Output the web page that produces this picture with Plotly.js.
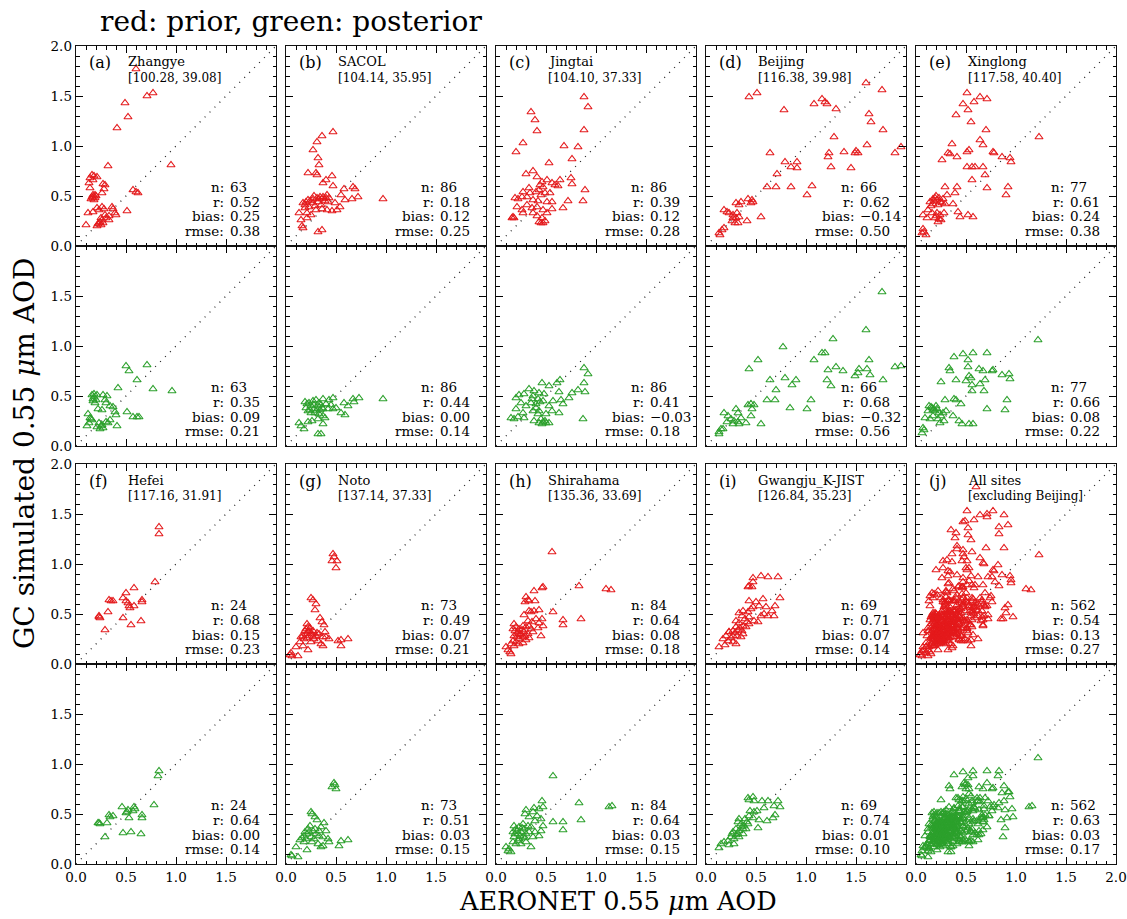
<!DOCTYPE html>
<html><head><meta charset="utf-8">
<script src="https://cdn.plot.ly/plotly-3.0.1.min.js"></script>
<style>html,body{margin:0;padding:0;background:#fff}</style>
</head><body>
<div id="chart" style="width:1127px;height:919px"></div>
<script>
// ---------------- data ----------------
const panelLetters = ['(a)','(b)','(c)','(d)','(e)','(f)','(g)','(h)','(i)','(j)'];
const siteNames = ['Zhangye','SACOL','Jingtai','Beijing','Xinglong','Hefei','Noto','Shirahama','Gwangju_K-JIST','All sites'];
const siteCoords = ['[100.28, 39.08]','[104.14, 35.95]','[104.10, 37.33]','[116.38, 39.98]','[117.58, 40.40]','[117.16, 31.91]','[137.14, 37.33]','[135.36, 33.69]','[126.84, 35.23]','[excluding Beijing]'];
const statN = ['63','86','86','66','77','24','73','84','69','562'];
const priorR = ['0.52','0.18','0.39','0.62','0.61','0.68','0.49','0.64','0.71','0.54'];
const priorBias = ['0.25','0.12','0.12','\u22120.14','0.24','0.15','0.07','0.08','0.07','0.13'];
const priorRmse = ['0.38','0.25','0.28','0.50','0.38','0.23','0.21','0.18','0.14','0.27'];
const postR = ['0.35','0.44','0.41','0.68','0.66','0.64','0.51','0.64','0.74','0.63'];
const postBias = ['0.09','0.00','\u22120.03','\u22120.32','0.08','0.00','0.03','0.03','0.01','0.03'];
const postRmse = ['0.21','0.14','0.18','0.56','0.22','0.14','0.15','0.15','0.10','0.17'];
const xTickVals = [0, 0.5, 1.0, 1.5, 2.0];
const xTickText = ['0.0','0.5','1.0','1.5','2.0'];

// [AERONET, GC] pairs
const zhangyePrior = [[0.60,1.77],[0.49,1.43],[0.52,1.29],[0.71,1.50],[0.77,1.53],[0.41,1.18],[0.95,0.81],[0.32,0.80],
[0.14,0.68],[0.16,0.71],[0.18,0.70],[0.21,0.69],[0.13,0.63],[0.14,0.58],[0.17,0.66],
[0.27,0.62],[0.29,0.61],[0.28,0.57],[0.26,0.53],
[0.16,0.49],[0.17,0.51],[0.19,0.48],[0.15,0.47],[0.20,0.50],[0.18,0.46],[0.17,0.48],[0.19,0.51],
[0.12,0.33],[0.17,0.34],[0.21,0.38],[0.26,0.39],[0.28,0.37],[0.23,0.36],
[0.36,0.39],[0.37,0.37],[0.39,0.33],[0.40,0.31],[0.51,0.35],[0.57,0.56],[0.60,0.54],[0.62,0.53],[0.10,0.21],
[0.21,0.20],[0.24,0.24],[0.26,0.26],[0.27,0.23],[0.30,0.28],[0.33,0.26],[0.23,0.23],[0.25,0.28],[0.33,0.30],[0.29,0.31],[0.22,0.22],[0.25,0.21]];
const zhangyePost = [[0.50,0.80],[0.53,0.75],[0.71,0.81],[0.61,0.66],[0.77,0.57],[0.96,0.55],[0.42,0.58],
[0.16,0.51],[0.18,0.49],[0.20,0.46],[0.17,0.45],[0.21,0.51],[0.19,0.43],[0.18,0.52],[0.17,0.47],
[0.27,0.51],[0.31,0.50],[0.29,0.46],[0.30,0.43],[0.34,0.40],[0.22,0.37],[0.26,0.36],
[0.37,0.39],[0.39,0.34],[0.40,0.31],[0.51,0.34],[0.57,0.29],[0.61,0.29],[0.63,0.29],
[0.12,0.32],[0.14,0.28],[0.16,0.26],[0.13,0.23],[0.15,0.27],
[0.11,0.20],[0.21,0.19],[0.23,0.23],[0.26,0.21],[0.27,0.18],[0.30,0.24],[0.32,0.23],[0.34,0.26],[0.41,0.20],[0.24,0.17],[0.25,0.20]];
const sacolPrior = [[0.47,1.14],[0.36,1.10],[0.31,1.04],[0.27,0.96],[0.32,0.88],[0.33,0.81],[0.22,0.73],[0.30,0.73],[0.31,0.71],[0.46,0.70],[0.37,0.63],[0.40,0.66],[0.47,0.60],[0.58,0.57],[0.67,0.59],[0.69,0.57],[0.97,0.47],[0.72,0.49],[0.66,0.47],[0.59,0.46],[0.55,0.51],
[0.17,0.43],[0.20,0.44],[0.22,0.46],[0.27,0.47],[0.31,0.48],[0.34,0.49],[0.37,0.49],[0.41,0.51],[0.43,0.48],[0.27,0.43],[0.32,0.44],[0.39,0.45],[0.23,0.39],[0.13,0.33],[0.19,0.38],[0.21,0.33],[0.25,0.31],[0.30,0.36],[0.36,0.37],[0.41,0.36],[0.46,0.35],[0.51,0.36],[0.54,0.39],[0.49,0.43],[0.35,0.41],[0.29,0.40],[0.16,0.20],[0.17,0.18],[0.32,0.14],[0.36,0.16],[0.15,0.26],[0.21,0.28],
[0.24,0.45],[0.36,0.47],[0.40,0.48],[0.28,0.50],[0.33,0.47],[0.19,0.41],[0.42,0.44]];
const sacolPost = [[0.97,0.47],[0.73,0.48],[0.67,0.47],[0.68,0.44],[0.62,0.40],[0.59,0.31],[0.55,0.33],[0.58,0.43],[0.47,0.48],[0.43,0.46],[0.37,0.47],
[0.19,0.44],[0.23,0.43],[0.27,0.45],[0.30,0.46],[0.33,0.43],[0.35,0.41],[0.40,0.42],[0.42,0.37],[0.47,0.37],[0.50,0.38],[0.22,0.35],[0.25,0.33],[0.30,0.35],[0.33,0.32],[0.37,0.30],[0.39,0.28],[0.32,0.27],[0.26,0.25],[0.22,0.24],[0.13,0.23],[0.15,0.20],[0.18,0.17],[0.37,0.22],[0.32,0.12],[0.35,0.12],[0.28,0.41],[0.20,0.38],[0.37,0.37],[0.45,0.41],
[0.24,0.36],[0.28,0.37],[0.32,0.40],[0.36,0.38],[0.21,0.42],[0.25,0.40],[0.29,0.33],[0.34,0.36]];
const jingtaiPrior = [[0.88,1.49],[0.92,1.39],[0.35,1.34],[0.39,1.26],[0.41,1.15],[0.27,1.03],[0.20,0.94],[0.68,1.00],[0.82,0.99],[0.88,1.16],[0.76,0.87],[0.53,0.83],[0.30,0.72],[0.37,0.75],[0.41,0.69],[0.64,0.66],[0.75,0.68],[0.76,0.62],[0.89,0.56],[0.87,0.45],[0.72,0.45],[0.67,0.38],
[0.46,0.64],[0.51,0.66],[0.56,0.63],[0.59,0.61],[0.47,0.59],[0.43,0.56],[0.49,0.53],[0.54,0.53],[0.45,0.51],[0.40,0.54],[0.34,0.53],[0.31,0.49],[0.26,0.49],[0.22,0.47],[0.19,0.48],[0.27,0.54],[0.37,0.46],[0.42,0.45],[0.51,0.44],[0.56,0.44],[0.21,0.39],[0.26,0.36],[0.31,0.41],[0.36,0.38],[0.41,0.39],[0.47,0.36],[0.51,0.33],[0.56,0.37],[0.17,0.29],[0.18,0.28],[0.16,0.28],[0.27,0.33],[0.43,0.24],[0.47,0.23],[0.49,0.25],[0.46,0.28],[0.41,0.30],[0.37,0.33],
[0.45,0.23],[0.62,0.60],[0.33,0.58],[0.44,0.61]];
const jingtaiPost = [[0.88,0.78],[0.92,0.72],[0.88,0.63],[0.89,0.54],[0.87,0.27],[0.82,0.56],[0.76,0.53],[0.73,0.48],[0.64,0.66],[0.61,0.63],[0.46,0.63],[0.53,0.60],[0.63,0.54],[0.65,0.46],[0.67,0.42],[0.63,0.33],[0.56,0.35],[0.53,0.40],[0.57,0.45],
[0.20,0.48],[0.23,0.51],[0.28,0.52],[0.33,0.57],[0.38,0.55],[0.43,0.53],[0.48,0.52],[0.37,0.50],[0.42,0.47],[0.47,0.45],[0.35,0.43],[0.30,0.40],[0.25,0.43],[0.20,0.37],[0.27,0.33],[0.40,0.38],[0.43,0.35],[0.15,0.28],[0.18,0.27],[0.22,0.29],[0.28,0.28],[0.38,0.25],[0.43,0.23],[0.47,0.24],[0.50,0.23],[0.53,0.23],[0.45,0.27],[0.42,0.32],[0.50,0.32],[0.37,0.35],
[0.40,0.42],[0.44,0.44],[0.36,0.47],[0.46,0.22],[0.49,0.25]];
const beijingPrior = [[0.43,1.49],[0.51,1.53],[0.78,1.36],[1.08,1.42],[1.16,1.47],[1.19,1.44],[1.21,1.42],[1.30,1.37],[1.60,1.63],[1.76,1.56],[1.63,1.32],[1.65,1.24],[1.77,1.16],[1.28,1.09],[1.61,1.01],[1.95,0.99],[1.89,0.93],[1.50,0.95],[1.52,0.93],[1.49,0.93],[1.38,0.94],[1.23,0.93],[1.22,0.89],[1.25,0.79],[1.45,0.78],[0.64,0.93],[0.79,0.84],[0.85,0.79],[0.91,0.84],[0.91,0.78],[0.71,0.72],[0.61,0.59],[0.70,0.59],[0.85,0.59],[1.06,0.60],[1.01,0.51],[0.55,0.29],[0.41,0.25],
[0.42,0.47],[0.46,0.46],[0.47,0.44],[0.45,0.43],[0.30,0.43],[0.35,0.44],[0.33,0.41],[0.18,0.36],[0.21,0.34],[0.23,0.33],[0.27,0.31],[0.31,0.33],[0.33,0.29],[0.30,0.28],[0.26,0.25],[0.29,0.23],[0.32,0.23],[0.27,0.28],[0.18,0.18],[0.16,0.16],[0.13,0.13],[0.14,0.11]];
const beijingPost = [[1.76,1.54],[1.60,1.16],[1.27,1.07],[0.77,0.99],[0.52,0.86],[0.43,0.77],[1.16,0.93],[1.19,0.93],[1.08,0.86],[1.63,0.86],[1.89,0.79],[1.95,0.80],[1.30,0.79],[1.37,0.75],[1.22,0.76],[1.53,0.77],[1.61,0.77],[1.52,0.73],[1.49,0.70],[1.64,0.71],[1.77,0.66],[1.21,0.66],[1.25,0.60],[0.79,0.68],[0.90,0.66],[0.86,0.61],[0.64,0.66],[0.70,0.56],[0.61,0.46],[0.69,0.46],[0.84,0.38],[1.05,0.46],[1.01,0.37],[0.55,0.22],[0.40,0.23],
[0.42,0.41],[0.45,0.42],[0.48,0.41],[0.46,0.37],[0.45,0.30],[0.30,0.37],[0.32,0.33],[0.18,0.33],[0.22,0.30],[0.25,0.27],[0.28,0.25],[0.32,0.24],[0.35,0.28],[0.33,0.22],[0.27,0.22],[0.21,0.24],[0.17,0.17],[0.13,0.14],[0.15,0.17],[0.13,0.12]];
const xinglongPrior = [[0.51,1.53],[0.64,1.49],[0.71,1.47],[0.58,1.44],[0.47,1.42],[0.52,1.36],[0.40,1.31],[0.55,1.24],[0.70,1.16],[1.23,1.09],[0.64,1.06],[0.67,1.01],[0.36,1.02],[0.51,0.94],[0.53,0.96],[0.32,0.93],[0.34,0.92],[0.41,0.89],[0.77,0.94],[0.78,0.93],[0.86,0.89],[0.94,0.88],[0.95,0.84],[0.26,0.86],[0.51,0.79],[0.56,0.79],[0.59,0.79],[0.67,0.79],[0.69,0.71],[0.56,0.66],[0.71,0.58],[0.92,0.59],[0.90,0.51],[0.29,0.59],[0.41,0.59],[0.39,0.53],[0.31,0.51],[0.37,0.42],[0.42,0.34],[0.44,0.29],[0.52,0.31],[0.57,0.29],
[0.14,0.44],[0.17,0.47],[0.19,0.48],[0.21,0.46],[0.24,0.44],[0.27,0.47],[0.29,0.42],[0.17,0.42],[0.22,0.41],[0.12,0.36],[0.07,0.31],[0.16,0.33],[0.21,0.33],[0.24,0.31],[0.19,0.28],[0.22,0.24],[0.25,0.26],[0.28,0.33],[0.07,0.17],[0.08,0.14],[0.10,0.11],[0.06,0.13],
[0.20,0.50],[0.23,0.48],[0.18,0.45],[0.26,0.43],[0.15,0.40],[0.20,0.30],[0.23,0.27],[0.11,0.28]];
const xinglongPost = [[1.22,1.06],[0.38,0.89],[0.47,0.92],[0.57,0.93],[0.71,0.93],[0.52,0.86],[0.33,0.78],[0.34,0.75],[0.52,0.79],[0.63,0.77],[0.67,0.75],[0.76,0.75],[0.77,0.76],[0.86,0.71],[0.93,0.72],[0.94,0.67],[0.53,0.70],[0.55,0.68],[0.50,0.65],[0.40,0.66],[0.25,0.64],[0.69,0.66],[0.64,0.62],[0.68,0.55],[0.56,0.61],[0.56,0.55],[0.38,0.47],[0.40,0.46],[0.29,0.46],[0.91,0.46],[0.71,0.37],[0.89,0.36],[0.45,0.42],
[0.13,0.40],[0.16,0.38],[0.18,0.37],[0.21,0.37],[0.12,0.35],[0.23,0.33],[0.27,0.33],[0.30,0.35],[0.17,0.30],[0.09,0.28],[0.14,0.27],[0.22,0.27],[0.24,0.23],[0.28,0.25],[0.37,0.30],[0.43,0.25],[0.46,0.22],[0.53,0.22],[0.57,0.22],[0.07,0.18],[0.08,0.16],[0.06,0.13],
[0.15,0.39],[0.19,0.35],[0.20,0.40],[0.25,0.30],[0.17,0.36]];
const hefeiPrior = [[0.83,1.37],[0.83,1.30],[0.79,0.82],[0.58,0.76],[0.50,0.71],[0.33,0.64],[0.35,0.63],[0.37,0.63],[0.47,0.66],[0.52,0.61],[0.53,0.58],[0.54,0.56],[0.58,0.58],[0.66,0.64],[0.66,0.62],[0.32,0.52],[0.23,0.48],[0.24,0.46],[0.23,0.47],[0.47,0.46],[0.65,0.43],[0.55,0.39],[0.29,0.34],[0.50,0.63]];
const hefeiPost = [[0.83,0.93],[0.82,0.88],[0.78,0.59],[0.58,0.57],[0.57,0.53],[0.52,0.54],[0.50,0.51],[0.53,0.46],[0.46,0.57],[0.66,0.49],[0.66,0.46],[0.33,0.49],[0.37,0.48],[0.31,0.41],[0.22,0.41],[0.24,0.40],[0.23,0.41],[0.47,0.31],[0.55,0.32],[0.65,0.30],[0.29,0.27],[0.51,0.52],[0.59,0.55],[0.34,0.47]];
const notoPrior = [[0.47,1.10],[0.48,1.07],[0.46,1.03],[0.51,1.03],[0.50,0.96],[0.25,0.66],[0.27,0.64],[0.30,0.60],[0.29,0.54],[0.34,0.46],[0.36,0.42],[0.38,0.39],[0.39,0.32],
[0.20,0.35],[0.22,0.37],[0.23,0.33],[0.20,0.30],[0.17,0.28],[0.15,0.27],[0.18,0.25],[0.23,0.28],[0.27,0.27],[0.30,0.28],[0.33,0.30],[0.37,0.27],[0.40,0.27],[0.43,0.25],[0.32,0.23],[0.35,0.20],[0.37,0.18],[0.25,0.22],[0.17,0.18],[0.10,0.17],[0.22,0.14],[0.12,0.08],[0.05,0.11],[0.06,0.08],[0.04,0.09],[0.52,0.23],[0.55,0.24],[0.62,0.25],[0.55,0.18],[0.27,0.33],[0.22,0.32],
[0.21,0.40],[0.24,0.36],[0.26,0.30],[0.19,0.33],[0.28,0.25],[0.31,0.31],[0.21,0.26],[0.14,0.22]];
const notoPost = [[0.48,0.81],[0.46,0.77],[0.50,0.75],[0.49,0.79],[0.25,0.52],[0.26,0.50],[0.29,0.47],[0.31,0.44],[0.38,0.41],[0.35,0.37],[0.40,0.33],[0.42,0.25],[0.43,0.22],[0.62,0.24],[0.55,0.23],[0.53,0.18],
[0.22,0.35],[0.23,0.32],[0.27,0.33],[0.30,0.30],[0.18,0.28],[0.16,0.26],[0.20,0.25],[0.25,0.27],[0.28,0.25],[0.33,0.28],[0.37,0.27],[0.18,0.22],[0.32,0.20],[0.35,0.17],[0.37,0.18],[0.10,0.17],[0.21,0.14],[0.05,0.09],[0.06,0.08],[0.12,0.07],[0.33,0.33],
[0.24,0.38],[0.21,0.30],[0.26,0.22],[0.29,0.35],[0.19,0.32],[0.14,0.24]];
const shirahamaPrior = [[0.56,1.12],[0.83,0.78],[1.10,0.75],[1.15,0.74],[0.47,0.77],[0.46,0.76],[0.38,0.73],[0.30,0.67],[0.32,0.64],[0.33,0.63],[0.39,0.63],[0.29,0.62],[0.57,0.52],[0.67,0.44],[0.67,0.39],[0.85,0.45],[0.43,0.54],[0.38,0.53],[0.33,0.53],[0.35,0.52],[0.28,0.49],[0.40,0.45],[0.46,0.45],[0.32,0.43],[0.43,0.41],[0.47,0.38],[0.42,0.36],[0.45,0.28],
[0.18,0.40],[0.20,0.37],[0.17,0.35],[0.23,0.35],[0.27,0.38],[0.30,0.37],[0.33,0.38],[0.35,0.35],[0.22,0.32],[0.25,0.30],[0.28,0.32],[0.32,0.30],[0.37,0.32],[0.18,0.28],[0.21,0.27],[0.23,0.25],[0.27,0.27],[0.30,0.24],[0.33,0.26],[0.17,0.23],[0.20,0.22],[0.15,0.20],[0.18,0.18],[0.10,0.17],[0.12,0.14],[0.14,0.12],[0.15,0.10],[0.23,0.20],[0.27,0.21],
[0.19,0.33],[0.24,0.29],[0.26,0.34],[0.29,0.28],[0.21,0.30],[0.36,0.42]];
const shirahamaPost = [[0.57,0.88],[1.13,0.57],[1.16,0.58],[0.83,0.61],[0.85,0.44],[0.67,0.42],[0.67,0.34],[0.57,0.42],[0.46,0.63],[0.43,0.55],[0.38,0.56],[0.47,0.57],[0.30,0.54],[0.29,0.50],[0.37,0.52],[0.41,0.48],[0.33,0.47],[0.39,0.43],[0.45,0.45],[0.47,0.38],[0.45,0.33],[0.39,0.32],[0.43,0.28],[0.35,0.17],
[0.18,0.38],[0.20,0.35],[0.23,0.37],[0.27,0.40],[0.28,0.35],[0.32,0.38],[0.35,0.37],[0.17,0.32],[0.22,0.30],[0.25,0.32],[0.30,0.30],[0.33,0.32],[0.18,0.27],[0.23,0.25],[0.27,0.27],[0.17,0.22],[0.20,0.20],[0.25,0.20],[0.30,0.22],[0.10,0.17],[0.13,0.15],[0.15,0.12],[0.12,0.13],[0.37,0.27],
[0.21,0.33],[0.24,0.28],[0.19,0.30],[0.26,0.36],[0.22,0.23],[0.29,0.26]];
const gwangjuPrior = [[0.55,0.88],[0.62,0.87],[0.72,0.87],[0.47,0.86],[0.47,0.82],[0.43,0.78],[0.42,0.77],[0.46,0.77],[0.74,0.66],[0.57,0.65],[0.43,0.63],[0.50,0.62],[0.53,0.58],[0.47,0.57],[0.60,0.57],[0.69,0.58],[0.66,0.53],[0.68,0.48],[0.58,0.50],[0.62,0.48],[0.55,0.48],[0.37,0.53],[0.42,0.52],[0.33,0.51],[0.36,0.48],[0.43,0.47],[0.48,0.43],[0.52,0.42],[0.41,0.42],
[0.30,0.43],[0.33,0.41],[0.37,0.38],[0.40,0.37],[0.30,0.37],[0.27,0.33],[0.32,0.34],[0.36,0.33],[0.23,0.32],[0.27,0.28],[0.31,0.28],[0.35,0.27],[0.20,0.28],[0.17,0.25],[0.22,0.23],[0.27,0.22],[0.30,0.20],[0.19,0.19],[0.13,0.17],[0.23,0.32],[0.37,0.30],[0.43,0.40],
[0.34,0.36],[0.29,0.31],[0.25,0.26],[0.39,0.45],[0.45,0.55]];
const gwangjuPost = [[0.42,0.66],[0.43,0.64],[0.47,0.67],[0.48,0.63],[0.56,0.63],[0.62,0.63],[0.72,0.63],[0.68,0.58],[0.74,0.57],[0.58,0.56],[0.44,0.53],[0.48,0.52],[0.51,0.53],[0.43,0.48],[0.47,0.46],[0.53,0.44],[0.61,0.43],[0.69,0.49],[0.67,0.46],[0.52,0.36],
[0.33,0.45],[0.32,0.42],[0.35,0.40],[0.38,0.38],[0.42,0.40],[0.37,0.35],[0.33,0.33],[0.30,0.35],[0.27,0.32],[0.32,0.30],[0.37,0.30],[0.25,0.27],[0.28,0.25],[0.33,0.27],[0.22,0.23],[0.18,0.22],[0.23,0.19],[0.28,0.20],[0.15,0.20],[0.13,0.16],[0.40,0.35],[0.39,0.45],
[0.36,0.37],[0.30,0.29],[0.41,0.42],[0.26,0.30]];

// all sites excluding Beijing = union of the other sites
const allPrior = [].concat(zhangyePrior, sacolPrior, jingtaiPrior, xinglongPrior, hefeiPrior, notoPrior, shirahamaPrior, gwangjuPrior);
const allPost = [].concat(zhangyePost, sacolPost, jingtaiPost, xinglongPost, hefeiPost, notoPost, shirahamaPost, gwangjuPost);

const priorSets = [zhangyePrior, sacolPrior, jingtaiPrior, beijingPrior, xinglongPrior, hefeiPrior, notoPrior, shirahamaPrior, gwangjuPrior, allPrior];
const postSets = [zhangyePost, sacolPost, jingtaiPost, beijingPost, xinglongPost, hefeiPost, notoPost, shirahamaPost, gwangjuPost, allPost];

// ---------------- layout ----------------
const W = 1127, H = 919;
const colLeft = [76, 286, 496, 706, 916];
const rowTop = [46, 246, 464, 664];
const PW = 200, PH = 200;
const RED = '#e41a1c', GREEN = '#2ca02c';
const FONT = 'DejaVu Serif';

const data = [];
const layout = {
  width: W, height: H, margin: {l:0, r:0, t:0, b:0},
  paper_bgcolor: '#fff', plot_bgcolor: 'rgba(0,0,0,0)',
  showlegend: false, annotations: [],
  font: {family: FONT, color: '#000'}
};

function axName(s, t) { return s === 1 ? t : t + s; }

for (let row = 0; row < 4; row++) {
  for (let col = 0; col < 5; col++) {
    const s = row * 5 + col + 1;
    const xa = 'xaxis' + (s === 1 ? '' : s), ya = 'yaxis' + (s === 1 ? '' : s);
    const xr = axName(s, 'x'), yr = axName(s, 'y');
    const xt = xTickText.slice();
    if (col < 4) xt[4] = '';
    const yt = xTickText.slice();
    if (row % 2 === 1) yt[4] = '';
    const common = {
      range: [0, 2], showgrid: false, zeroline: false, showline: true,
      linecolor: '#111', linewidth: 1.3, mirror: 'allticks',
      ticks: 'inside', ticklen: 7, tickwidth: 1, tickcolor: '#000',
      tickvals: xTickVals, fixedrange: true,
      tickfont: {family: FONT, size: 13.5, color: '#000'},
      minor: {dtick: 0.1, ticks: 'inside', ticklen: 3.5, tickwidth: 1, tickcolor: '#000', showgrid: false}
    };
    layout[xa] = Object.assign({}, common, {
      domain: [colLeft[col] / W, (colLeft[col] + PW) / W], anchor: yr,
      ticktext: xt, showticklabels: row === 3
    });
    layout[ya] = Object.assign({}, common, {
      domain: [1 - (rowTop[row] + PH) / H, 1 - rowTop[row] / H], anchor: xr,
      ticktext: yt, showticklabels: col === 0
    });

    const k = Math.floor(row / 2) * 5 + col;
    const isPrior = row % 2 === 0;
    const pts = isPrior ? priorSets[k] : postSets[k];
    // 1:1 line
    data.push({x: [0, 2], y: [0, 2], xaxis: xr, yaxis: yr, mode: 'lines', type: 'scatter',
      line: {color: '#222', width: 1.3, dash: '1px,6px'}, hoverinfo: 'skip'});
    data.push({x: pts.map(p => p[0]), y: pts.map(p => p[1]), xaxis: xr, yaxis: yr,
      mode: 'markers', type: 'scatter',
      marker: {symbol: 'triangle-up-open', size: 7, color: isPrior ? RED : GREEN, line: {width: 1.1, color: isPrior ? RED : GREEN}}});

    const A = layout.annotations;
    if (isPrior) {
      A.push({xref: xr, yref: yr, x: 0.11, y: 1.83, text: panelLetters[k], showarrow: false,
        xanchor: 'left', yanchor: 'middle', font: {family: FONT, size: 16, color: '#000'}});
      A.push({xref: xr, yref: yr, x: 0.50, y: 1.84, text: siteNames[k], showarrow: false,
        xanchor: 'left', yanchor: 'middle', font: {family: FONT, size: 13, color: '#000'}});
      A.push({xref: xr, yref: yr, x: 0.50, y: 1.68, text: siteCoords[k], showarrow: false,
        xanchor: 'left', yanchor: 'middle', font: {family: FONT, size: 12, color: '#000'}});
    }
    const labels = ['n:', 'r:', 'bias:', 'rmse:'];
    const vals = isPrior ? [statN[k], priorR[k], priorBias[k], priorRmse[k]]
                         : [statN[k], postR[k], postBias[k], postRmse[k]];
    const ys = [0.59, 0.443, 0.295, 0.148];
    for (let i = 0; i < 4; i++) {
      A.push({xref: xr, yref: yr, x: 1.495, y: ys[i], text: labels[i], showarrow: false,
        xanchor: 'right', yanchor: 'middle', font: {family: FONT, size: 13.5, color: '#000'}});
      A.push({xref: xr, yref: yr, x: 1.515, y: ys[i], text: vals[i], showarrow: false,
        xanchor: 'left', yanchor: 'middle', font: {family: FONT, size: 13.5, color: '#000'}});
    }
  }
}

layout.annotations.push({xref: 'paper', yref: 'paper', x: 98 / W, y: 1 - 21 / H,
  text: 'red: prior, green: posterior', showarrow: false, xanchor: 'left', yanchor: 'middle',
  font: {family: FONT, size: 28, color: '#000'}});
layout.annotations.push({xref: 'paper', yref: 'paper', x: 618 / W, y: 1 - 901 / H,
  text: 'AERONET 0.55 <i>\u03bc</i>m AOD', showarrow: false, xanchor: 'center', yanchor: 'middle',
  font: {family: FONT, size: 25.5, color: '#000'}});
layout.annotations.push({xref: 'paper', yref: 'paper', x: 24 / W, y: 1 - 454 / H,
  text: 'GC simulated 0.55 <i>\u03bc</i>m AOD', showarrow: false, xanchor: 'center', yanchor: 'middle',
  textangle: -90, font: {family: FONT, size: 28, color: '#000'}});

Plotly.newPlot('chart', data, layout, {staticPlot: true, displayModeBar: false});
</script>
</body></html>
